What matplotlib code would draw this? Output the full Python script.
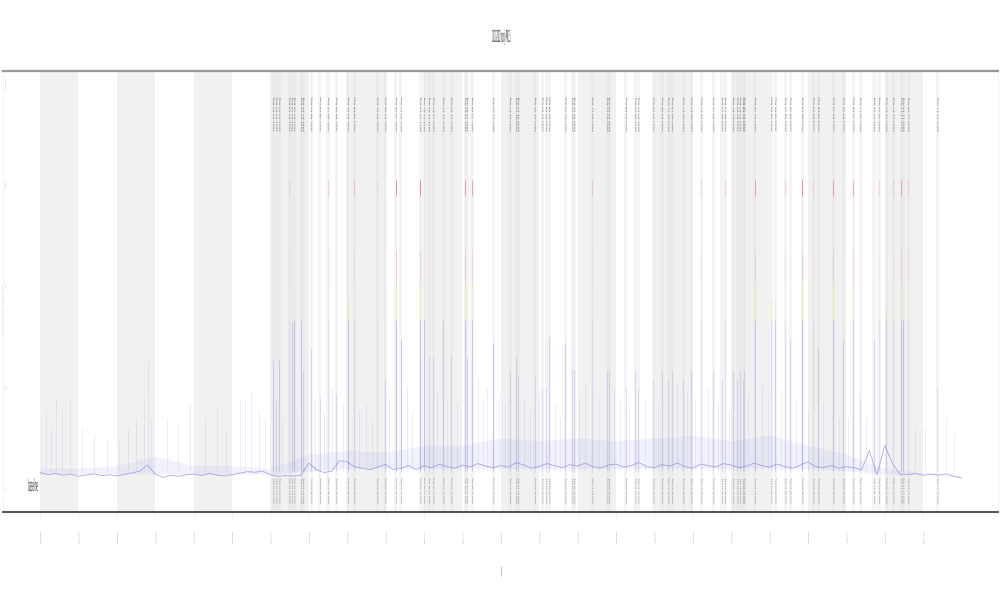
import numpy as np
import matplotlib
matplotlib.use('Agg')
import matplotlib.pyplot as plt
from matplotlib.patheffects import AbstractPathEffect
from matplotlib.transforms import Affine2D

title = '2021-2022 hourly PM2.5'
series_name = 'baseline'
x_name = 'date'
y_name = 'concentration (ug/m3)'

months = ['2021-%02d' % m for m in range(1, 13)] + ['2022-%02d' % m for m in range(1, 13)]
y_ticks = [1, 10, 100, 1000, 10000]

# hourly level, one reading every 0.2 month
level = [
    1.45, 1.38, 1.42, 1.36, 1.40, 1.33, 1.37, 1.41, 1.35, 1.38,
    1.34, 1.39, 1.44, 1.50, 1.72, 1.40, 1.30, 1.36, 1.33, 1.38,
    1.40, 1.35, 1.42, 1.37, 1.34, 1.38, 1.43, 1.48, 1.46, 1.50,
    1.38, 1.33, 1.35, 1.34, 1.37, 1.80, 1.55, 1.45, 1.50, 1.90,
    1.85, 1.65, 1.60, 1.55, 1.65, 1.75, 1.55, 1.60, 1.70, 1.55,
    1.70, 1.62, 1.75, 1.66, 1.60, 1.72, 1.65, 1.78, 1.68, 1.62,
    1.70, 1.64, 1.82, 1.72, 1.60, 1.66, 1.78, 1.70, 1.62, 1.74,
    1.68, 1.80, 1.66, 1.60, 1.72, 1.76, 1.64, 1.70, 1.82, 1.66,
    1.62, 1.74, 1.68, 1.80, 1.66, 1.60, 1.76, 1.70, 1.64, 1.78,
    1.72, 1.62, 1.68, 1.80, 1.70, 1.64, 1.76, 1.66, 1.60, 1.72,
    1.85, 1.66, 1.62, 1.70, 1.60, 1.66, 1.62, 1.55, 2.40, 1.38,
    2.70, 1.80, 1.38, 1.38, 1.42, 1.36, 1.40, 1.37, 1.41, 1.33,
    1.28,
]

# monthly spread of the small spikes above the level
spread_low = [1.4, 1.4, 1.4, 1.4, 1.4, 1.4, 1.4, 1.5, 1.6, 1.6, 1.6, 1.6, 1.6,
              1.6, 1.6, 1.6, 1.6, 1.6, 1.6, 1.6, 1.6, 1.5, 1.4, 1.4, 1.3]
spread_high = [1.6, 1.6, 1.7, 2.1, 1.7, 1.7, 1.6, 2.2, 2.4, 2.3, 2.7, 2.7, 3.2,
               3.0, 3.2, 3.0, 3.2, 3.4, 3.0, 3.4, 2.7, 2.2, 1.6, 1.45, 1.35]

small_x = [0.15, 0.28, 0.42, 0.58, 0.78, 1.10, 1.40, 1.75, 2.05, 2.30, 2.50, 2.70, 2.80, 2.90,
           3.30, 3.60, 3.90, 4.30, 4.60, 4.85, 5.20, 5.35, 5.50, 5.70, 5.85,
           6.30, 6.70, 7.15, 7.40, 7.60, 7.90, 8.30, 8.50, 8.65, 9.10, 9.55, 9.70,
           10.35, 10.60, 10.85, 11.40, 11.55, 11.65, 11.95, 12.10, 12.60, 12.75, 13.00,
           13.40, 13.55, 14.05, 14.20, 14.55, 14.95, 15.10, 15.35, 15.75, 16.10, 16.60,
           16.85, 17.05, 17.40, 17.65, 17.95, 18.45, 18.80, 18.95, 19.30, 19.70, 20.00,
           20.40, 20.80, 21.05, 21.50, 22.80, 23.05, 23.60, 23.80]
small_y = [6, 4, 8, 6, 8, 4, 3.5, 3, 3, 4, 5, 8, 19, 5,
           5, 4.5, 7, 5, 6.5, 4, 7.5, 8, 9, 6, 5,
           5, 6, 8, 6, 10, 7, 6, 7, 5, 8, 10, 6,
           9, 8, 7, 12, 8, 10, 9, 7, 8, 6, 9,
           7, 5, 8, 11, 8, 10, 8, 6, 8, 7, 11,
           9, 8, 10, 7, 6, 9, 11, 9, 10, 8, 6,
           7, 5, 5, 5, 4, 4, 5, 3.5]

# flagged events: time in months, peak value, how much the spikes overlap
event_x = [6.07, 6.15, 6.23, 6.49, 6.56, 6.62, 6.80, 6.85, 7.06, 7.29, 7.50, 7.71,
           8.02, 8.18, 8.78, 8.99, 9.27, 9.40, 9.90, 10.00, 10.13, 10.24, 10.50, 10.71,
           11.07, 11.12, 11.25, 11.80, 12.24, 12.40, 12.45, 12.89, 13.08, 13.18, 13.26,
           13.68, 13.86, 13.91, 14.38, 14.77, 14.82, 15.26, 15.50, 15.58, 15.97, 16.20,
           16.36, 16.46, 16.75, 16.96, 17.22, 17.53, 17.76, 17.84, 18.05, 18.16, 18.23,
           18.31, 18.34, 18.62, 19.04, 19.15, 19.41, 19.54, 19.85, 20.14, 20.27, 20.66,
           20.92, 21.18, 21.36, 21.72, 21.85, 22.04, 22.22, 22.43, 22.48, 22.61, 23.37]
event_peak = [19, 7.6, 19, 1150, 45, 47, 47, 15, 25, 8, 1150, 9,
              75, 1150, 1150, 12, 1150, 30, 1150, 47, 20, 20, 47, 20,
              1150, 20, 1150, 28, 15, 20, 13, 13, 10, 10, 32,
              28, 15, 15, 1150, 15, 15, 10, 15, 10, 12, 15,
              12, 15, 12, 15, 1150, 15, 12, 1150, 15, 12, 15,
              12, 15, 1150, 75, 75, 1150, 30, 1150, 1150, 25, 1150,
              30, 1150, 8, 30, 1150, 60, 1150, 1150, 47, 1150, 10]
event_weight = [0.7, 0.5, 0.7, 0.25, 0.7, 0.9, 0.7, 0.5, 0.6, 0.5, 0.3, 0.5,
                0.8, 0.4, 0.2, 0.5, 1.0, 0.8, 1.0, 0.8, 0.5, 0.5, 0.6, 0.5,
                0.8, 0.6, 0.8, 0.8, 0.5, 0.6, 0.5, 0.5, 0.4, 0.4, 0.6,
                0.6, 0.5, 0.5, 0.35, 0.5, 0.5, 0.4, 0.5, 0.5, 0.5, 0.5,
                0.5, 0.5, 0.5, 0.5, 0.25, 0.5, 0.5, 0.3, 0.5, 0.5, 0.5,
                0.5, 0.5, 0.8, 0.5, 0.7, 0.3, 0.6, 1.0, 0.25, 0.6, 0.8,
                0.6, 0.7, 0.4, 0.6, 0.3, 0.6, 0.3, 0.8, 0.8, 0.25, 0.4]


class SquishX(AbstractPathEffect):
    """Narrow text sideways, the plot was exported far too narrow for its text."""

    def __init__(self, factor):
        super().__init__()
        self.factor = factor

    def draw_path(self, renderer, gc, tpath, affine, rgbFace=None):
        cx = affine.get_matrix()[0, 2]
        squished = affine + Affine2D().translate(-cx, 0).scale(self.factor, 1).translate(cx, 0)
        renderer.draw_path(gc, tpath, squished, rgbFace)


def event_label(t):
    year = 2021 + int(t) // 12
    month = int(t) % 12 + 1
    day = int((t - int(t)) * 28) + 1
    return f'{year}-{month:02d}-{day:02d} flag'


fig = plt.figure(figsize=(10, 6), dpi=100)
ax = fig.add_axes([0.003, 0.1467, 0.995, 0.735])
ax.set_yscale('log')
ax.set_xlim(-0.964, 24.95)
ax.set_ylim(0.59, 13770)

# every second month is shaded
for i in range(0, 24, 2):
    ax.axvspan(i, i + 1, color='#f1f1f1', lw=0, zorder=0)

for t in event_x:
    ax.axvspan(t - 0.04, t + 0.04, color='#e6e2e6', alpha=0.4, lw=0, zorder=1)

level_x = np.linspace(0, 24, len(level))
ax.fill_between(np.arange(len(spread_low)), spread_low, spread_high, color='#9999ee', alpha=0.12, lw=0, zorder=2)
ax.vlines(small_x, 1.5, small_y, color='#9999ee', alpha=0.2, lw=0.6, zorder=2)
ax.plot(level_x, level, color='#7777e0', alpha=0.6, lw=0.6, zorder=4)

# spikes change colour with the value reached
blue, yellow, red = '#6666dd', '#e6e02a', '#dd2a55'
for t, peak, w in zip(event_x, event_peak, event_weight):
    ax.vlines(t, 1.5, min(peak, 47), color=blue, alpha=0.45 * w, lw=0.6, zorder=3)
    if peak > 47:
        ax.vlines(t, 47, min(peak, 110), color=yellow, alpha=0.4 * w, lw=0.6, zorder=3)
    if peak > 110:
        ax.vlines(t, 110, 230, color=red, alpha=0.25 * w, lw=0.5, zorder=3)
        ax.vlines(t, 230, 800, color=red, alpha=0.07 * w, lw=0.5, zorder=3)
        ax.vlines(t, 800, peak, color=red, alpha=0.5 * w, lw=0.7, zorder=3)
    ax.text(t, 7450, event_label(t), rotation=90, ha='center', va='top', fontsize=3.1, color='#4a4a4a',
            path_effects=[SquishX(0.35)], zorder=5)
    ax.text(t, 1.28, event_label(t), rotation=90, ha='center', va='top', fontsize=2.3, color='#4a4a4a',
            path_effects=[SquishX(0.35)], zorder=5)

ax.set_xticks(range(len(months)))
ax.set_xticklabels(months, rotation=90, fontsize=2.0, color='#777777', path_effects=[SquishX(0.4)])
ax.tick_params(axis='x', length=5, width=0.4, color='#e8e8e8', pad=10)
ax.set_yticks(y_ticks)
ax.set_yticklabels([str(v) for v in y_ticks], rotation=90, fontsize=2.6, color='#bbbbbb', va='center',
                   path_effects=[SquishX(0.4)])
ax.tick_params(axis='y', which='both', length=0, pad=-3)
ax.minorticks_off()

ax.spines['top'].set_color('#999999')
ax.spines['top'].set_linewidth(1.6)
ax.spines['bottom'].set_color('#333333')
ax.spines['bottom'].set_linewidth(1.2)
ax.spines['left'].set_color('#eeeeee')
ax.spines['left'].set_linewidth(0.5)
ax.spines['right'].set_color('#eeeeee')
ax.spines['right'].set_linewidth(0.5)

fig.text(0.492, 0.93, title, fontsize=12, color='#222222', ha='left', va='baseline',
         path_effects=[SquishX(0.09)])
ax.text(-0.31, 0.95, series_name, fontsize=12, color='#333333', ha='left', va='baseline',
        path_effects=[SquishX(0.14)], zorder=6)
fig.text(0.501, 0.047, x_name, rotation=90, fontsize=3.2, color='#777777', ha='center', va='center',
         path_effects=[SquishX(0.4)])
fig.text(0.002, 0.48, y_name, rotation=90, fontsize=3.2, color='#cccccc', ha='center', va='center',
         path_effects=[SquishX(0.4)])

fig.savefig('out.png', dpi=100)
